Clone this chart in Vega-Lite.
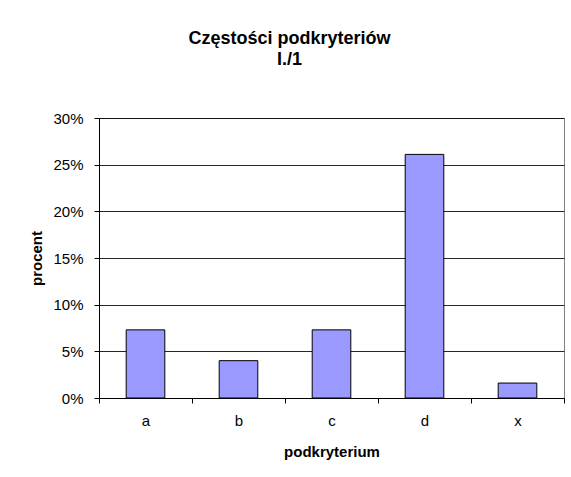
{
  "$schema": "https://vega.github.io/schema/vega-lite/v6.json",
  "width": 465,
  "height": 280,
  "autosize": {"type": "none"},
  "padding": {"left": 99, "top": 118, "right": 7, "bottom": 79},
  "background": "white",
  "title": {
    "text": ["Częstości podkryteriów", "I./1"],
    "font": "Liberation Sans",
    "fontSize": 18,
    "fontWeight": "bold",
    "color": "black",
    "lineHeight": 21,
    "anchor": "middle",
    "dx": -42,
    "offset": 42
  },
  "data": {
    "values": [
      {"podkryterium": "a", "procent": 0.073},
      {"podkryterium": "b", "procent": 0.040},
      {"podkryterium": "c", "procent": 0.073},
      {"podkryterium": "d", "procent": 0.261},
      {"podkryterium": "x", "procent": 0.016}
    ]
  },
  "mark": {"type": "bar", "fill": "#9999FF", "stroke": "black", "strokeWidth": 1, "width": {"band": 0.415}},
  "encoding": {
    "x": {
      "field": "podkryterium",
      "type": "nominal",
      "scale": {"paddingInner": 0, "paddingOuter": 0},
      "axis": {
        "title": "podkryterium",
        "labelAngle": 0,
        "tickBand": "extent",
        "tickSize": 5,
        "labelPadding": 10,
        "titlePadding": 16,
        "domainColor": "black",
        "tickColor": "black",
        "grid": false
      }
    },
    "y": {
      "field": "procent",
      "type": "quantitative",
      "scale": {"domain": [0, 0.3]},
      "axis": {
        "title": "procent",
        "values": [0, 0.05, 0.1, 0.15, 0.2, 0.25, 0.3],
        "format": ".0%",
        "tickSize": 5,
        "labelPadding": 11,
        "titlePadding": 8,
        "domainColor": "black",
        "tickColor": "black",
        "gridColor": "black",
        "gridOpacity": 0.85
      }
    }
  },
  "config": {
    "font": "Liberation Sans",
    "view": {"stroke": "#808080", "strokeWidth": 1},
    "axis": {
      "labelFont": "Liberation Sans",
      "labelFontSize": 15,
      "labelColor": "black",
      "titleFont": "Liberation Sans",
      "titleFontSize": 15,
      "titleFontWeight": "bold",
      "titleColor": "black"
    }
  }
}
